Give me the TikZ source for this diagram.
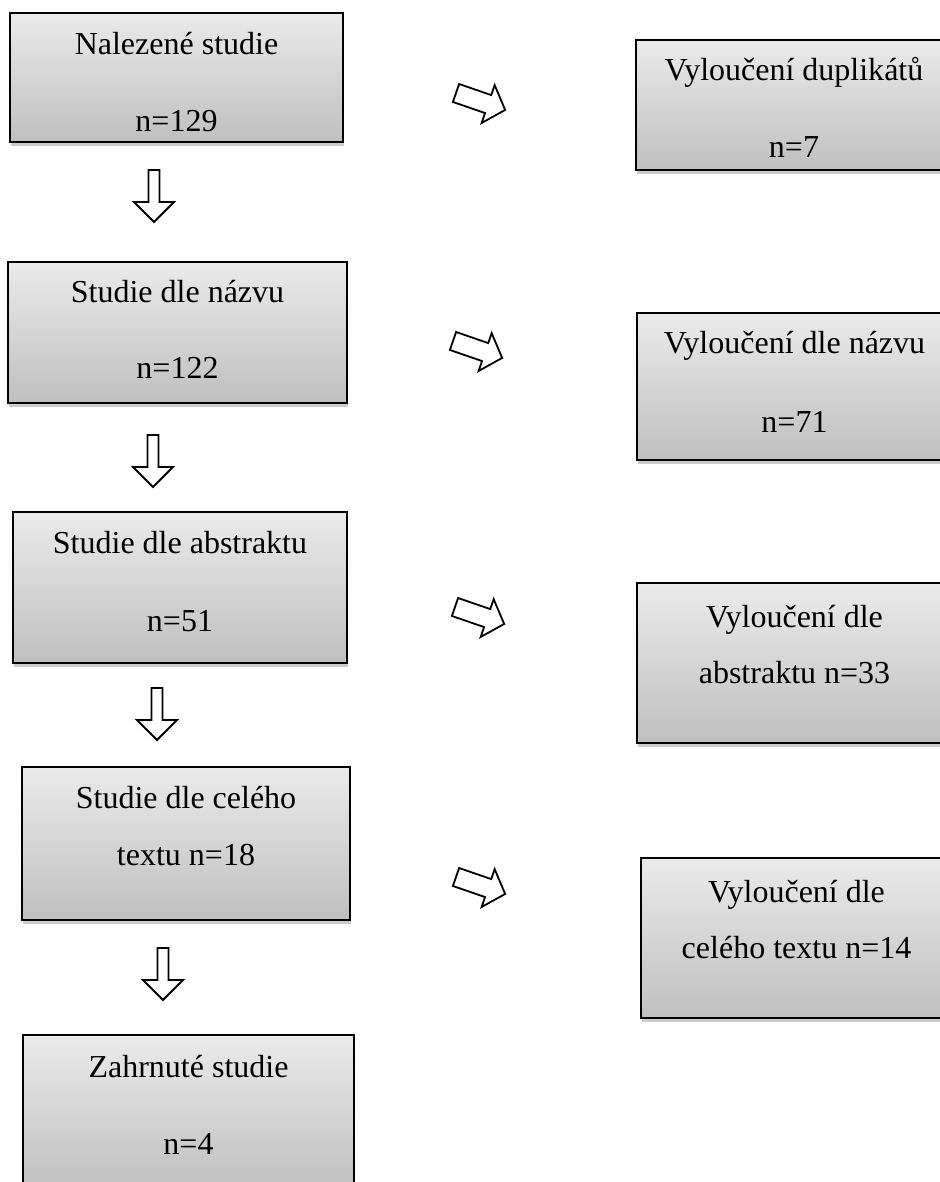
\documentclass[tikz,border=0pt]{standalone}
\usepackage{fontspec}
\setmainfont{Liberation Serif}
\usetikzlibrary{shadows}
\tikzset{
  stage/.style={draw=black, line width=1pt, inner sep=0pt, outer sep=0pt,
    top color=gray!16, bottom color=gray!50,
    drop shadow={shadow xshift=.6pt, shadow yshift=-2pt, opacity=.4}},
  lbl/.style={anchor=base, inner sep=0pt, font=\fontsize{16}{19}\selectfont},
  blk/.style={draw=black, line width=.9pt, fill=white, line join=miter},
}
% block arrows, given the middle of the tail
\newcommand\downblk[1]{\draw[blk,shift={(#1)},rotate=-90] (0,-5.5) -- (32,-5.5) -- (32,-20) -- (52,0) -- (32,20) -- (32,5.5) -- (0,5.5) -- cycle;}
\newcommand\sideblk[1]{\draw[blk,shift={(#1)},rotate=-19] (0,-9.5) -- (34,-9.5) -- (34,-20) -- (52,0) -- (34,20) -- (34,9.5) -- (0,9.5) -- cycle;}
\begin{document}
\begin{tikzpicture}[x=.5pt,y=-.5pt]
	\useasboundingbox (0,0) rectangle (939,1182);
	% left column
	\node[stage, minimum width=166.5pt, minimum height=64.5pt] (b1) at (176.5,77.5) {};
	\node[lbl] (b1a) at (176.5,55)  {Nalezené studie};
	\node[lbl] (b1b) at (176.5,132) {n=129};
	\node[stage, minimum width=169.5pt, minimum height=70.5pt] (b2) at (177.5,332.5) {};
	\node[lbl] (b2a) at (177.5,302) {Studie dle názvu};
	\node[lbl] (b2b) at (177.5,378) {n=122};
	\node[stage, minimum width=167pt, minimum height=75.5pt] (b3) at (180,587.5) {};
	\node[lbl] (b3a) at (180,553) {Studie dle abstraktu};
	\node[lbl] (b3b) at (180,631) {n=51};
	\node[stage, minimum width=164pt, minimum height=76.5pt] (b4) at (186,843.5) {};
	\node[lbl] (b4a) at (186,808) {Studie dle celého};
	\node[lbl] (b4b) at (186,865) {textu n=18};
	\node[stage, minimum width=165.5pt, minimum height=77.5pt] (b5) at (188.5,1112.5) {};
	\node[lbl] (b5a) at (188.5,1077) {Zahrnuté studie};
	\node[lbl] (b5b) at (188.5,1154) {n=4};
	% right column
	\node[stage, minimum width=158pt, minimum height=65pt] (v1) at (794,105) {};
	\node[lbl] (v1a) at (794,81)  {Vyloučení duplikátů};
	\node[lbl] (v1b) at (794,158) {n=7};
	\node[stage, minimum width=157.5pt, minimum height=73.5pt] (v2) at (794.5,386.5) {};
	\node[lbl] (v2a) at (794.5,353) {Vyloučení dle názvu};
	\node[lbl] (v2b) at (794.5,432) {n=71};
	\node[stage, minimum width=157.5pt, minimum height=80pt] (v3) at (794.5,663) {};
	\node[lbl] (v3a) at (794.5,627) {Vyloučení dle};
	\node[lbl] (v3b) at (794.5,683) {abstraktu n=33};
	\node[stage, minimum width=155.5pt, minimum height=80pt] (v4) at (796.5,938) {};
	\node[lbl] (v4a) at (796.5,902) {Vyloučení dle};
	\node[lbl] (v4b) at (796.5,958) {celého textu n=14};
	% arrows
	\downblk{154,170}
	\downblk{153,435}
	\downblk{157,688}
	\downblk{163,948}
	\sideblk{456,93}
	\sideblk{453,341}
	\sideblk{455,607}
	\sideblk{456,877}
\end{tikzpicture}
\end{document}
